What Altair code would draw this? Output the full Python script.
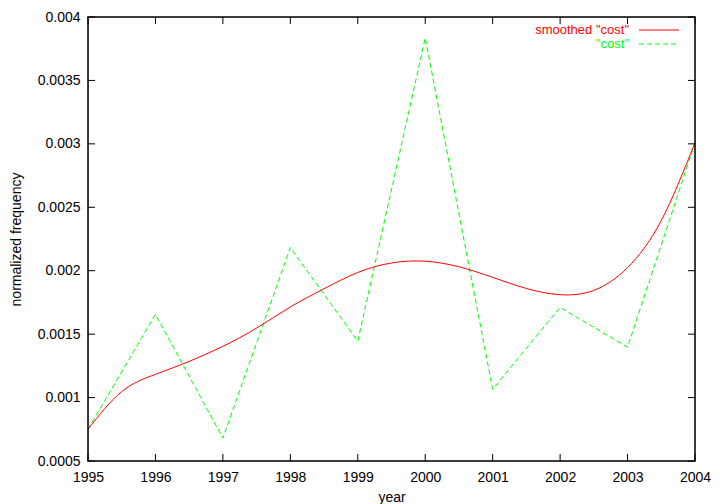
import altair as alt
import pandas as pd

# ---- data ----
years = [1995, 1996, 1997, 1998, 1999, 2000, 2001, 2002, 2003, 2004]
cost = [0.00075, 0.001656, 0.000681, 0.002183, 0.001444, 0.003835, 0.001066, 0.001711, 0.001397, 0.003009]

smooth_years = [1995, 1995.5, 1996, 1996.5, 1997, 1997.5, 1998, 1998.5, 1999, 1999.5,
                2000, 2000.5, 2001, 2001.5, 2002, 2002.5, 2003, 2003.5, 2004]
smooth_cost = [0.00075, 0.001047, 0.001183, 0.001285, 0.001404, 0.001548, 0.001714, 0.001858,
               0.001986, 0.002061, 0.002075, 0.002031, 0.001948, 0.00186, 0.001811, 0.001845,
               0.002024, 0.002396, 0.003009]

y_ticks = [0.0005, 0.001, 0.0015, 0.002, 0.0025, 0.003, 0.0035, 0.004]
x_ticks = years

legend_labels = ['smoothed "cost"', '"cost"']

W, H = 607, 444
FONT = "Liberation Sans"

df_cost = pd.DataFrame({"year": years, "value": cost})
df_smooth = pd.DataFrame({"year": smooth_years, "value": smooth_cost})
df_yt = pd.DataFrame({"value": y_ticks})
df_xt = pd.DataFrame({"year": x_ticks})
df_one = pd.DataFrame({"a": [0]})

xscale = alt.Scale(domain=[1995, 2004], nice=False, zero=False)
yscale = alt.Scale(domain=[0.0005, 0.004], nice=False, zero=False)

xaxis = alt.Axis(values=x_ticks, format="d", title="year", grid=False, ticks=False, tickSize=0,
                 domain=False, labelFont=FONT, labelFontSize=14, labelColor="black",
                 labelPadding=9, titleFont=FONT, titleFontSize=14, titleFontWeight="normal",
                 titleColor="black", titlePadding=6, labelFlush=False)
yaxis = alt.Axis(values=y_ticks, format="~g", title="normalized frequency", grid=False, ticks=False,
                 tickSize=0, domain=False, labelFont=FONT, labelFontSize=14, labelColor="black",
                 labelPadding=8, titleFont=FONT, titleFontSize=14, titleFontWeight="normal",
                 titleColor="black", titlePadding=14, labelFlush=False)

X = alt.X("year:Q", scale=xscale, axis=xaxis)
Y = alt.Y("value:Q", scale=yscale, axis=yaxis)

smooth = alt.Chart(df_smooth).mark_line(color="#ff0000", strokeWidth=1, interpolate="natural").encode(
    x=X, y=Y)

raw = alt.Chart(df_cost).mark_line(color="#00ff00", strokeWidth=1, strokeDash=[5, 3]).encode(
    x=X, y=Y)

yt_left = alt.Chart(df_yt).mark_rule(color="black", strokeWidth=1).encode(
    y=Y, x=alt.value(0), x2=alt.value(7))
yt_right = alt.Chart(df_yt).mark_rule(color="black", strokeWidth=1).encode(
    y=Y, x=alt.value(W - 7), x2=alt.value(W))
xt_bottom = alt.Chart(df_xt).mark_rule(color="black", strokeWidth=1).encode(
    x=X, y=alt.value(H - 7), y2=alt.value(H))
xt_top = alt.Chart(df_xt).mark_rule(color="black", strokeWidth=1).encode(
    x=X, y=alt.value(0), y2=alt.value(7))

frame = alt.Chart(df_one).mark_rect(fill="transparent", stroke="black", strokeWidth=1.5).encode(
    x=alt.value(0), x2=alt.value(W), y=alt.value(0), y2=alt.value(H))

leg_t1 = alt.Chart(df_one).mark_text(align="right", baseline="middle", font=FONT, fontSize=13,
                                     color="#ff0000", text=legend_labels[0]).encode(
    x=alt.value(541), y=alt.value(13))
leg_t2 = alt.Chart(df_one).mark_text(align="right", baseline="middle", font=FONT, fontSize=13,
                                     color="#00ff00", text=legend_labels[1]).encode(
    x=alt.value(541), y=alt.value(27))
leg_l1 = alt.Chart(df_one).mark_rule(color="#ff0000", strokeWidth=1).encode(
    x=alt.value(551), x2=alt.value(591), y=alt.value(13))
leg_l2 = alt.Chart(df_one).mark_rule(color="#00ff00", strokeWidth=1, strokeDash=[5, 3]).encode(
    x=alt.value(551), x2=alt.value(591), y=alt.value(27))

chart = alt.layer(
    raw, smooth, yt_left, yt_right, xt_bottom, xt_top, frame, leg_t1, leg_t2, leg_l1, leg_l2
).properties(
    width=W, height=H,
    autosize=alt.AutoSizeParams(type="none"),
    padding={"left": 80, "top": 9, "right": 17, "bottom": 43},
).configure_view(stroke=None).configure(background="white")

chart.save("out.html", embed_options={"renderer": "svg", "actions": False})
